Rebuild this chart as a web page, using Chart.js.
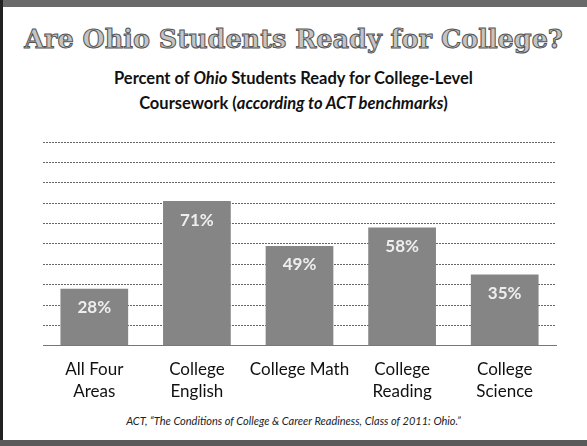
<!DOCTYPE html>
<html>
<head>
<meta charset="utf-8">
<script src="https://cdn.jsdelivr.net/npm/chart.js@4.4.1/dist/chart.umd.min.js"></script>
<style>
  html, body { margin: 0; padding: 0; background: #fff; }
  #slide { position: relative; width: 587px; height: 446px; overflow: hidden; background: #fff; }
  #topband { position: absolute; left: 0; top: 0; width: 587px; height: 7px; background: #6a6a6a; }
  #botband { position: absolute; left: 0; top: 440px; width: 587px; height: 6px; background: #5a5a5a; }
  #leftbar { position: absolute; left: 0; top: 0; width: 3px; height: 446px; background: #222; }
  #title { position: absolute; left: 0; top: 24px; width: 587px; text-align: center; white-space: nowrap;
    font-family: "DejaVu Serif", serif; font-weight: bold; font-size: 25.5px; color: #c4c4c4;
    -webkit-text-stroke: 1px #555; }
  #sub { position: absolute; left: 0; top: 66px; width: 587px; text-align: center;
    font-family: Lato, sans-serif; font-weight: bold; font-size: 16.5px; line-height: 25px; color: #111; }
  #cite { position: absolute; left: 0; top: 414px; width: 587px; text-align: center;
    font-family: Lato, sans-serif; font-style: italic; font-size: 11px; color: #222; }
  #wrap { position: absolute; left: 0; top: 130px; width: 587px; height: 278px; }
</style>
</head>
<body>
<div id="slide">
  <div id="topband"></div>
  <div id="leftbar"></div>
  <div id="botband"></div>
  <div id="title">Are Ohio Students Ready for College?</div>
  <div id="sub">Percent of <i>Ohio</i> Students Ready for College-Level<br>Coursework (<i>according to ACT benchmarks</i>)</div>
  <div id="wrap"><canvas id="readyChart"></canvas></div>
  <div id="cite">ACT, “The Conditions of College &amp; Career Readiness, Class of 2011: Ohio.”</div>
</div>
<script>
const categories = [["All Four", "Areas"], ["College", "English"], ["College Math"], ["College", "Reading"], ["College", "Science"]];
const percentReady = [28, 71, 49, 58, 35];

// white % labels just under the top of each bar
const barLabels = {
    id: 'barLabels',
    afterDatasetsDraw(chart) {
        const ctx = chart.ctx;
        const meta = chart.getDatasetMeta(0);
        ctx.save();
        ctx.font = 'bold 17px Lato, sans-serif';
        ctx.fillStyle = '#eeeeee';
        ctx.textAlign = 'center';
        ctx.textBaseline = 'middle';
        meta.data.forEach((bar, i) => {
            ctx.fillText(percentReady[i] + '%', bar.x, bar.y + 19);
        });
        ctx.restore();
    }
};

const cvs = document.getElementById('readyChart');

new Chart(cvs, {
    type: 'bar',
    data: {
        labels: categories,
        datasets: [{
            data: percentReady,
            backgroundColor: '#858585',
            borderWidth: 0,
            categoryPercentage: 1,
            barPercentage: 0.66
        }]
    },
    options: {
        responsive: true,
        maintainAspectRatio: false,
        animation: false,
        layout: { padding: { left: 43, right: 31, top: 12, bottom: 0 } },
        plugins: { legend: { display: false }, tooltip: { enabled: false } },
        scales: {
            y: {
                min: 0,
                max: 100,
                ticks: { stepSize: 10, display: false },
                border: { display: false, dash: [2, 1] },
                grid: { color: '#666', lineWidth: 1, drawTicks: false }
            },
            x: {
                border: { display: true, color: '#777', dash: [1, 1] },
                grid: { display: false, drawOnChartArea: false },
                ticks: {
                    color: '#111',
                    font: { family: 'Lato, sans-serif', size: 17, lineHeight: 1.3 },
                    padding: 5,
                    maxRotation: 0,
                    autoSkip: false
                }
            }
        }
    },
    plugins: [barLabels]
});
</script>
</body>
</html>
